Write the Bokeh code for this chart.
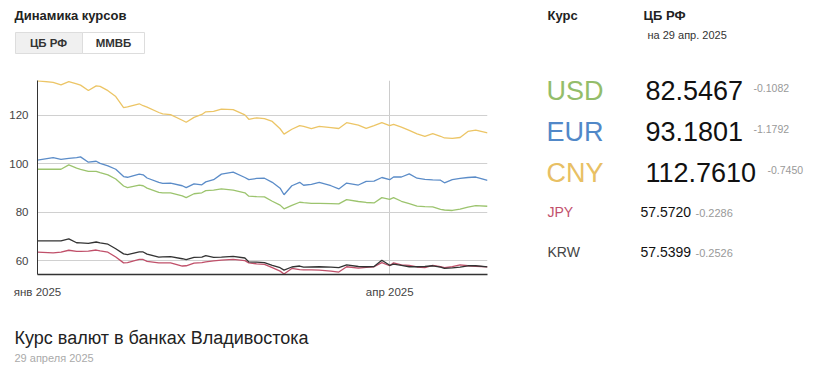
import pandas as pd
from bokeh.plotting import figure
from bokeh.models import FixedTicker, Range1d
from bokeh.layouts import column, row
from bokeh.core.properties import value
from bokeh.embed import file_html
from bokeh.resources import INLINE

# ---------------- data ----------------
dates = ["2025-01-01", "2025-01-05", "2025-01-07", "2025-01-09", "2025-01-11", "2025-01-12",
         "2025-01-14", "2025-01-16", "2025-01-17", "2025-01-19", "2025-01-21", "2025-01-23",
         "2025-01-24", "2025-01-27", "2025-01-28", "2025-01-29", "2025-02-01", "2025-02-02",
         "2025-02-04", "2025-02-07", "2025-02-08", "2025-02-10", "2025-02-12", "2025-02-13",
         "2025-02-15", "2025-02-17", "2025-02-20", "2025-02-23", "2025-02-24", "2025-02-26",
         "2025-02-28", "2025-03-02", "2025-03-04", "2025-03-05", "2025-03-07", "2025-03-09",
         "2025-03-10", "2025-03-12", "2025-03-14", "2025-03-17", "2025-03-19", "2025-03-21",
         "2025-03-24", "2025-03-26", "2025-03-28", "2025-03-30", "2025-04-01", "2025-04-02",
         "2025-04-04", "2025-04-06", "2025-04-08", "2025-04-10", "2025-04-12", "2025-04-14",
         "2025-04-15", "2025-04-17", "2025-04-19", "2025-04-21", "2025-04-23", "2025-04-26"]

cny = [134.3, 133.6, 132.6, 133.9, 133.0, 132.5, 130.3, 132.2, 132.0, 130.2,
       127.8, 123.2, 123.5, 124.8, 124.0, 123.4, 121.2, 120.6, 120.3, 118.0,
       117.2, 119.2, 120.4, 121.5, 121.7, 122.6, 122.4, 120.2, 118.4, 119.0,
       118.7, 117.5, 114.5, 112.3, 114.3, 115.8, 115.5, 114.6, 115.5, 115.0,
       114.6, 117.0, 116.0, 114.7, 115.8, 117.0, 115.8, 116.3, 115.2, 113.8,
       112.4, 111.4, 112.5, 111.4, 110.7, 110.5, 110.9, 113.4, 113.9, 112.76]

eur = [101.6, 102.6, 101.9, 102.3, 102.6, 102.9, 100.7, 101.1, 100.2, 99.2,
       97.8, 94.8, 94.5, 95.8, 95.5, 94.2, 92.4, 92.0, 92.1, 91.0,
       90.2, 91.8, 91.4, 92.6, 93.5, 95.8, 96.6, 94.4, 93.5, 94.0,
       94.1, 92.4, 90.0, 87.3, 91.0, 92.4, 91.2, 91.6, 92.4, 91.0,
       89.7, 92.1, 91.3, 92.8, 92.9, 94.4, 93.5, 94.6, 94.6, 95.9,
       94.1, 93.6, 93.4, 93.3, 92.2, 93.5, 94.0, 94.4, 94.6, 93.18]

usd = [97.8, 97.8, 97.8, 99.6, 98.3, 97.8, 96.9, 96.9, 96.4, 95.5,
       93.8, 90.9, 90.2, 91.3, 91.0, 90.0, 88.3, 88.1, 88.1, 86.8,
       86.1, 87.7, 88.1, 89.0, 89.2, 89.7, 89.2, 88.1, 86.7, 86.5,
       86.4, 84.6, 83.0, 81.5, 82.9, 84.2, 84.0, 83.7, 83.7, 83.6,
       83.5, 85.3, 84.5, 84.1, 83.9, 86.1, 85.4, 86.1, 84.6, 83.6,
       82.6, 82.4, 82.3, 81.3, 81.0, 80.8, 81.4, 82.2, 82.8, 82.55]

krw = [68.3, 68.3, 68.3, 69.1, 67.5, 67.4, 67.2, 67.8, 67.4, 66.9,
       65.0, 62.9, 62.6, 63.7, 63.7, 62.8, 61.6, 61.7, 61.8, 60.9,
       60.5, 61.5, 61.6, 62.2, 61.5, 61.6, 61.9, 61.2, 59.6, 59.5,
       59.3, 58.2, 57.2, 56.2, 57.5, 57.9, 57.4, 57.5, 57.6, 57.4,
       57.2, 58.4, 57.7, 57.6, 57.7, 60.3, 58.2, 58.7, 58.2, 57.6,
       57.6, 57.7, 58.0, 57.4, 56.9, 57.1, 57.4, 58.0, 58.0, 57.54]

jpy = [63.6, 63.3, 63.6, 64.4, 63.9, 63.9, 64.0, 64.5, 64.1, 63.6,
       61.6, 59.2, 59.3, 60.6, 60.6, 59.8, 59.2, 59.2, 59.2, 57.9,
       58.0, 59.1, 59.3, 59.6, 60.0, 60.3, 60.6, 60.1, 59.2, 58.8,
       58.6, 57.2, 55.8, 54.6, 56.9, 56.4, 56.3, 56.3, 56.2, 55.8,
       55.4, 57.6, 57.0, 57.3, 57.6, 59.3, 58.0, 59.2, 58.4, 58.2,
       57.5, 57.2, 58.2, 57.6, 57.2, 57.6, 58.4, 58.0, 57.8, 57.57]

y_ticks = [60, 80, 100, 120]
x_tick_dates = ["2025-01-01", "2025-04-01"]
x_tick_labels = ["янв 2025", "апр 2025"]

currencies = ["USD", "EUR", "CNY", "JPY", "KRW"]
rates = ["82.5467", "93.1801", "112.7610", "57.5720", "57.5399"]
changes = ["-0.1082", "-1.1792", "-0.7450", "-0.2286", "-0.2526"]
cur_colors = ["#94bd6a", "#5188c8", "#e8c064", "#c2506c", "#444444"]

FONT = "Liberation Sans"

# ---------------- chart ----------------
start = pd.Timestamp("2025-01-01")
days = [int(d) for d in (pd.to_datetime(dates) - start).days]
tick_days = [int(d) for d in (pd.to_datetime(x_tick_dates) - start).days]

chart = figure(width=530, height=228, x_range=(0, 115), y_range=(54.4, 134.4),
               output_backend="svg", toolbar_location=None,
               min_border_left=37, min_border_right=43, min_border_top=8, min_border_bottom=24)
chart.outline_line_color = None

chart.xaxis.ticker = FixedTicker(ticks=tick_days)
chart.xaxis.major_label_overrides = {t: l for t, l in zip(tick_days, x_tick_labels)}
chart.yaxis.ticker = FixedTicker(ticks=y_ticks)
for ax in (chart.xaxis, chart.yaxis):
    ax.major_tick_line_color = None
    ax.minor_tick_line_color = None
    ax.axis_line_color = "#333333"
    ax.major_label_text_font = FONT
    ax.major_label_text_color = "#444444"
    ax.major_label_text_font_size = "11.5px"
chart.xaxis.axis_line_width = 1.5
chart.xaxis.major_label_standoff = 5
chart.yaxis.major_label_standoff = 3

chart.xgrid.ticker = FixedTicker(ticks=[tick_days[1]])
chart.xgrid.grid_line_color = "#cccccc"
chart.ygrid.grid_line_color = "#d0d0d0"

series = [(cny, "#ecc566"), (eur, "#5b8cc8"), (usd, "#9cc46e"), (jpy, "#c0506a"), (krw, "#333333")]
for vals, col in series:
    chart.line(days, vals, line_color=col, line_width=1.3)


# ---------------- decoration panels (ranges in page pixels) ----------------
def panel(x0, x1, y0, y1):
    f = figure(width=x1 - x0, height=y1 - y0, x_range=Range1d(x0, x1), y_range=Range1d(y1, y0),
               output_backend="svg", toolbar_location=None, x_axis_type=None, y_axis_type=None,
               min_border=0)
    f.outline_line_color = None
    f.grid.visible = False
    return f


def text(f, t, X, Y, size, color, bold=False, align="left"):
    # Y is the desired baseline; compensate the renderer's baseline offset
    f.text(x=[X], y=[Y - 0.37 * size], text=[t], text_font=value(FONT),
           text_font_size=value(f"{size}px"), text_color=color,
           text_font_style="bold" if bold else "normal",
           text_align=align, text_baseline="alphabetic")


header = panel(0, 812, 0, 72)
text(header, "Динамика курсов", 14, 20, 13, "#222222", bold=True)
header.quad(left=[15, 82], right=[82, 144], top=[32, 32], bottom=[53, 53],
            fill_color=["#f0f0f0", "#ffffff"], line_color="#dddddd", line_width=1)
text(header, "ЦБ РФ", 48, 46.5, 11.5, "#333333", bold=True, align="center")
text(header, "ММВБ", 113, 46.5, 11.5, "#333333", bold=True, align="center")
text(header, "Курс", 547, 20, 13, "#222222", bold=True)
text(header, "ЦБ РФ", 643, 20, 13, "#222222", bold=True)
text(header, "на 29 апр. 2025", 647, 39, 11, "#333333")

right = panel(530, 812, 72, 300)
big_base = [100, 141, 182]
delta_x = [753, 753, 767]
for i in range(3):
    text(right, currencies[i], 546, big_base[i], 27, cur_colors[i])
    text(right, rates[i], 645, big_base[i], 27, "#111111")
    text(right, changes[i], delta_x[i], big_base[i] - 9, 10.5, "#999999")

small_base = [217, 257]
for j, i in enumerate(range(3, 5)):
    text(right, currencies[i], 547, small_base[j], 14, cur_colors[i])
    text(right, rates[i], 640, small_base[j], 14, "#111111")
    text(right, changes[i], 695, small_base[j], 11, "#999999")

footer = panel(0, 812, 300, 368)
text(footer, "Курс валют в банках Владивостока", 14, 344, 18, "#222222")
text(footer, "29 апреля 2025", 14, 362, 11, "#aaaaaa")

layout = column(header, row(column(chart), column(right)), footer)
open("out.html", "w").write(file_html(layout, INLINE))
